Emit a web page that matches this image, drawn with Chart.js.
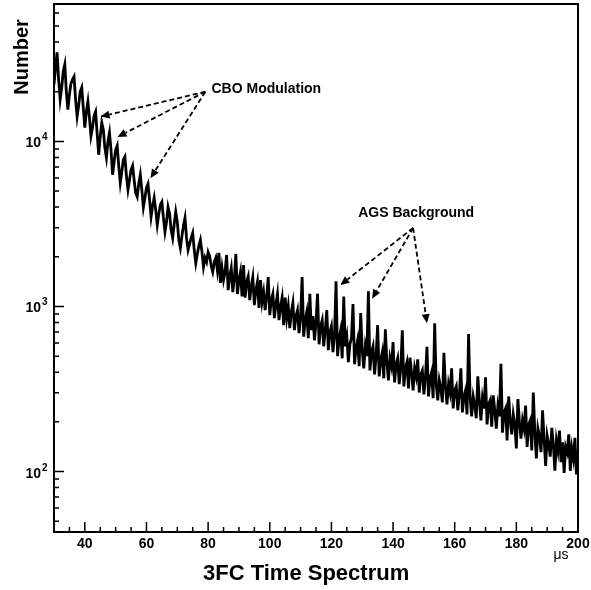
<!DOCTYPE html>
<html>
<head>
<meta charset="utf-8">
<title>3FC Time Spectrum</title>
<script src="https://cdn.jsdelivr.net/npm/chart.js@4.4.1/dist/chart.umd.min.js"></script>
<style>
  html, body { margin: 0; padding: 0; background: #fff; }
  #wrap { width: 591px; height: 590px; position: relative; }
</style>
</head>
<body>
<div id="wrap"><canvas id="spectrum"></canvas></div>
<script>
// histogram bins: 0.5 us wide, starting at 30 us
const T_START = 30;
const BIN_WIDTH = 0.5;
const counts = [
  22110, 28030, 34600, 23710, 17920, 21200, 26500, 29240, 20040, 15580,
  19220, 22420, 23710, 24700, 17920, 14130, 16480, 20040, 21200, 16020,
  12130, 15150, 17430, 13930, 10780, 12130, 14330, 15150, 11140, 8300,
  10680, 13000, 11780, 9160, 7960, 9960, 11290, 8900, 6280, 7530,
  8900, 9420, 7120, 5610, 6550, 7740, 8070, 6190, 5090, 5850,
  6730, 7120, 5850, 4880, 4620, 5530, 6280, 5090, 3990, 4550,
  5240, 5530, 4425, 3490, 4070, 4550, 3847, 3119, 3640, 4125,
  4300, 3440, 2830, 3250, 4010, 3640, 2908, 2600, 3160, 3740,
  3250, 2529, 2260, 2670, 3080, 3440, 2600, 2198, 2390, 2600,
  2790, 2198, 1830, 2080, 2330, 2529, 2140, 1735, 1970, 1860,
  2140, 2020, 1760, 1620, 1860, 1970, 1662, 2110, 1390, 1710,
  1445, 1620, 2050, 1256, 1520, 1710, 1220, 1480, 2080, 1190,
  1445, 1620, 1150, 1782, 1130, 1410, 1520, 1093, 1330, 1505,
  1019, 1256, 1410, 980, 1445, 1065, 1220, 950, 1150, 1505,
  886, 1093, 1190, 850, 1035, 1195, 826, 1000, 1130, 770,
  1130, 850, 1000, 738, 925, 1050, 718, 873, 950, 690,
  850, 1505, 656, 826, 925, 643, 1195, 718, 873, 624,
  803, 1195, 590, 760, 826, 574, 718, 950, 543, 700,
  760, 528, 656, 1420, 500, 643, 718, 485, 1150, 574,
  656, 460, 590, 643, 1035, 446, 555, 624, 434, 912,
  543, 422, 574, 500, 1235, 410, 528, 574, 388, 500,
  770, 377, 472, 528, 367, 728, 459, 357, 485, 434,
  608, 347, 446, 485, 338, 422, 718, 328, 422, 459,
  319, 490, 399, 310, 422, 377, 478, 301, 388, 410,
  293, 367, 570, 285, 367, 399, 278, 790, 338, 270,
  357, 319, 262, 523, 328, 255, 338, 301, 422, 241,
  310, 328, 235, 293, 422, 228, 285, 310, 222, 680,
  278, 216, 285, 255, 210, 377, 270, 204, 278, 241,
  372, 193, 255, 270, 187, 289, 235, 182, 248, 216,
  450, 172, 228, 241, 154, 285, 204, 168, 222, 193,
  138, 275, 199, 158, 204, 182, 251, 141, 193, 204,
  134, 301, 172, 120, 182, 163, 131, 235, 158, 108,
  165, 146, 123, 184, 146, 101, 154, 134, 177, 114,
  150, 98, 141, 131, 168, 101, 138, 120, 160, 96,
  134
];
const times = counts.map((c, i) => T_START + i * BIN_WIDTH);

const xTicks = [40, 60, 80, 100, 120, 140, 160, 180, 200];
const xMinorStep = 5;
const yDecades = [100, 1000, 10000];
const yExponents = ['2', '3', '4'];

const X_MIN = 30, X_MAX = 200;
const Y_MIN = 43, Y_MAX = 68000;

// callouts, in data units (us, counts)
const cboText = { label: 'CBO Modulation', t: 81.1, n: 20600 };
const cboFrom = { t: 79.1, n: 20000 };
const cboTips = [{ t: 45.1, n: 14130 }, { t: 50.6, n: 10640 }, { t: 61.3, n: 5990 }];
const agsText = { label: 'AGS Background', t: 128.7, n: 3700 };
const agsFrom = { t: 146.5, n: 2990 };
const agsTips = [{ t: 122.9, n: 1348 }, { t: 133.2, n: 1115 }, { t: 151.0, n: 792 }];

const FONT = '"Liberation Sans", Arial, Helvetica, sans-serif';

function arrow(ctx, x0, y0, x1, y1) {
  const dx = x1 - x0, dy = y1 - y0;
  const len = Math.hypot(dx, dy);
  const ux = dx / len, uy = dy / len;
  const head = 9, half = 4;
  ctx.setLineDash([5, 3]);
  ctx.beginPath();
  ctx.moveTo(x0, y0);
  ctx.lineTo(x1 - ux * head, y1 - uy * head);
  ctx.stroke();
  ctx.setLineDash([]);
  ctx.beginPath();
  ctx.moveTo(x1, y1);
  ctx.lineTo(x1 - ux * head - uy * half, y1 - uy * head + ux * half);
  ctx.lineTo(x1 - ux * head + uy * half, y1 - uy * head - ux * half);
  ctx.closePath();
  ctx.fill();
}

const framePlugin = {
  id: 'frame',
  afterDraw(chart) {
    const { ctx, chartArea: a, scales: { x, y } } = chart;
    ctx.save();
    ctx.strokeStyle = '#000';
    ctx.fillStyle = '#000';

    // box round the plot
    ctx.lineWidth = 2;
    ctx.strokeRect(a.left, a.top, a.right - a.left, a.bottom - a.top);

    // inward ticks
    ctx.lineWidth = 1.5;
    ctx.beginPath();
    for (let v = X_MIN + xMinorStep; v < X_MAX; v += xMinorStep) {
      const px = x.getPixelForValue(v);
      const len = xTicks.includes(v) ? 10 : 5;
      ctx.moveTo(px, a.bottom);
      ctx.lineTo(px, a.bottom - len);
    }
    for (const d of [10, 100, 1000, 10000]) {
      for (let k = 1; k < 10; k++) {
        const v = d * k;
        if (v < Y_MIN || v > Y_MAX) continue;
        const py = y.getPixelForValue(v);
        const len = k === 1 ? 10 : 5;
        ctx.moveTo(a.left, py);
        ctx.lineTo(a.left + len, py);
      }
    }
    ctx.stroke();

    // decade labels 10^n
    ctx.textBaseline = 'alphabetic';
    yDecades.forEach((v, i) => {
      const py = y.getPixelForValue(v);
      ctx.font = 'bold 14px ' + FONT;
      ctx.textAlign = 'right';
      ctx.fillText('10', a.left - 13, py + 6);
      ctx.font = 'bold 10px ' + FONT;
      ctx.textAlign = 'left';
      ctx.fillText(yExponents[i], a.left - 12, py - 1);
    });

    // axis titles
    ctx.save();
    ctx.translate(22, 57);
    ctx.rotate(-Math.PI / 2);
    ctx.font = 'bold 20px ' + FONT;
    ctx.textAlign = 'center';
    ctx.textBaseline = 'middle';
    ctx.fillText('Number', 0, 0);
    ctx.restore();

    ctx.font = 'bold 22px ' + FONT;
    ctx.textAlign = 'left';
    ctx.textBaseline = 'alphabetic';
    ctx.fillText('3FC Time Spectrum', 203, 580);

    ctx.font = '14px ' + FONT;
    ctx.textAlign = 'center';
    ctx.fillText('\u03bcs', a.right - 17, a.bottom + 27);

    // callouts
    ctx.lineWidth = 1.8;
    ctx.font = 'bold 14px ' + FONT;
    ctx.textAlign = 'left';
    ctx.textBaseline = 'middle';
    for (const [txt, from, tips] of [[cboText, cboFrom, cboTips], [agsText, agsFrom, agsTips]]) {
      ctx.fillText(txt.label, x.getPixelForValue(txt.t), y.getPixelForValue(txt.n));
      const fx = x.getPixelForValue(from.t), fy = y.getPixelForValue(from.n);
      for (const tip of tips) {
        arrow(ctx, fx, fy, x.getPixelForValue(tip.t), y.getPixelForValue(tip.n));
      }
    }
    ctx.restore();
  }
};

new Chart(document.querySelector('#spectrum'), {
  type: 'line',
  data: {
    datasets: [{
      data: times.map((t, i) => ({ x: t, y: counts[i] })),
      borderColor: '#000',
      borderWidth: 2.8,
      pointRadius: 0,
      tension: 0,
      fill: false
    }]
  },
  options: {
    responsive: true,
    maintainAspectRatio: false,
    animation: false,
    layout: { padding: { top: 4, right: 13, left: 0, bottom: 0 } },
    plugins: { legend: { display: false }, tooltip: { enabled: false } },
    scales: {
      x: {
        type: 'linear',
        min: X_MIN,
        max: X_MAX,
        grid: { display: false, drawTicks: false },
        border: { display: false },
        afterBuildTicks: (scale) => { scale.ticks = xTicks.map(v => ({ value: v })); },
        afterFit: (scale) => {
          scale.height = 58;
          // let the "200" label run past the plot edge instead of shrinking it
          scale.paddingLeft = 0;
          scale.paddingRight = 0;
        },
        ticks: {
          color: '#000',
          padding: 4,
          maxRotation: 0,
          autoSkip: false,
          font: { family: FONT, size: 14, weight: 'bold' }
        }
      },
      y: {
        type: 'logarithmic',
        min: Y_MIN,
        max: Y_MAX,
        grid: { display: false, drawTicks: false },
        border: { display: false },
        ticks: { display: false },
        afterFit: (scale) => { scale.width = 54; }
      }
    }
  },
  plugins: [framePlugin]
});
</script>
</body>
</html>
